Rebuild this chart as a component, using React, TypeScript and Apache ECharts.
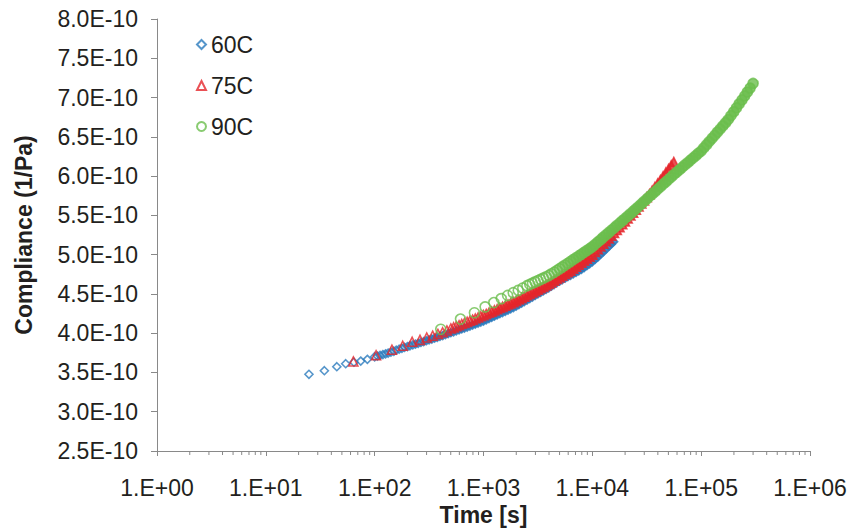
import React, { useEffect, useRef } from "react";
import * as echarts from "echarts";

// Creep compliance (1/Pa) against time (s) at three temperatures.
// Compliance values are listed in units of 1E-10 1/Pa.
const time60C = [
  24.9, 34.5, 44.9, 54.2, 64.5, 74.5, 85.7,
  100, 106, 112, 119, 126, 133, 141, 150, 158, 168, 178, 188, 200, 211, 224, 237, 251, 266, 282, 299,
  316, 335, 355, 376, 398, 422, 447, 473, 501, 531, 562, 596, 631, 668, 708, 750, 794, 841, 891, 944,
  1000, 1059, 1122, 1189, 1259, 1334, 1413, 1496, 1585, 1679, 1778, 1884, 1995, 2113, 2239, 2371,
  2512, 2661, 2818, 2985, 3162, 3350, 3548, 3758, 3981, 4217, 4467, 4732, 5012, 5309, 5623, 5957,
  6310, 6683, 7079, 7499, 7943, 8414, 8913, 9441,
  10000, 10590, 11220, 11890, 12590, 13340, 14130, 14960, 15700,
];
const comp60C = [
  3.477, 3.522, 3.573, 3.611, 3.63, 3.645, 3.667,
  3.7, 3.708, 3.717, 3.727, 3.737, 3.747, 3.758, 3.77, 3.783, 3.796, 3.808, 3.819, 3.83, 3.84, 3.85,
  3.86, 3.871, 3.882, 3.893, 3.904, 3.915, 3.926, 3.937, 3.948, 3.959, 3.97, 3.982, 3.994, 4.006,
  4.018, 4.03, 4.042, 4.054, 4.066, 4.078, 4.09, 4.103, 4.116, 4.129, 4.142,
  4.155, 4.17, 4.186, 4.201, 4.217, 4.232, 4.248, 4.263, 4.279, 4.295, 4.311, 4.327, 4.343, 4.363,
  4.382, 4.402, 4.421, 4.441, 4.46, 4.48, 4.499, 4.519, 4.538, 4.558, 4.577, 4.6, 4.622, 4.645,
  4.662, 4.682, 4.7, 4.719, 4.737, 4.756, 4.774, 4.793, 4.811, 4.835, 4.859, 4.884,
  4.909, 4.939, 4.969, 5.002, 5.035, 5.069, 5.102, 5.136, 5.165,
];

const time75C = [
  63.7, 103, 144, 181, 221, 261, 301, 341, 381, 421, 461,
  501, 531, 562, 596, 631, 668, 708, 750, 794, 841, 891, 944,
  1000, 1059, 1122, 1189, 1259, 1334, 1413, 1496, 1585, 1679, 1778, 1884, 1995, 2113, 2239, 2371,
  2512, 2661, 2818, 2985, 3162, 3350, 3548, 3758, 3981, 4217, 4467, 4732, 5012, 5309, 5623, 5957,
  6310, 6683, 7079, 7499, 7943, 8414, 8913, 9441,
  10000, 10590, 11220, 11890, 12590, 13340, 14130, 14960, 15850, 16790, 17780, 18840, 19950, 21130,
  22390, 23710, 25120, 26610, 28180, 29850, 31620, 33500, 35480, 37580, 39810, 42170, 44670, 47320,
  50120, 53090, 56000,
];
const comp75C = [
  3.64, 3.72, 3.79, 3.84, 3.89, 3.915, 3.945, 3.968, 3.99, 4.012, 4.035,
  4.06, 4.074, 4.088, 4.102, 4.116, 4.13, 4.144, 4.158, 4.172, 4.186, 4.2, 4.215,
  4.23, 4.245, 4.26, 4.275, 4.29, 4.305, 4.32, 4.335, 4.35, 4.365, 4.38, 4.395, 4.41, 4.428, 4.446,
  4.464, 4.482, 4.5, 4.518, 4.536, 4.554, 4.572, 4.59, 4.608, 4.626, 4.647, 4.669, 4.69, 4.711,
  4.733, 4.754, 4.775, 4.796, 4.822, 4.847, 4.873, 4.898, 4.924, 4.949, 4.975,
  5.0, 5.034, 5.069, 5.103, 5.138, 5.172, 5.207, 5.241, 5.276, 5.313, 5.35, 5.387, 5.424, 5.461,
  5.498, 5.535, 5.572, 5.612, 5.652, 5.691, 5.731, 5.771, 5.816, 5.861, 5.906, 5.951, 5.998, 6.044,
  6.091, 6.137, 6.18,
];

const time90C = [
  405, 615, 825, 1035, 1245, 1455, 1665, 1875, 2085, 2295, 2505,
  2661, 2818, 2985, 3162, 3350, 3548, 3758, 3981, 4217, 4467, 4732, 5012, 5309, 5623, 5957, 6310,
  6683, 7079, 7499, 7943, 8414, 8913, 9441,
  10000, 10590, 11220, 11890, 12590, 13340, 14130, 14960, 15850, 16790, 17780, 18840, 19950, 21130,
  22390, 23710, 25120, 26610, 28180, 29850, 31620, 33500, 35480, 37580, 39810, 42170, 44670, 47320,
  50120, 53090, 56230, 59570, 63100, 66830, 70790, 74990, 79430, 84140, 89130, 94410,
  100000, 105900, 112200, 118900, 125900, 133400, 141300, 149600, 158500, 167900, 177800, 188400,
  199500, 211300, 223900, 237100, 251200, 266100, 281800, 300000,
];
const comp90C = [
  4.05, 4.18, 4.26, 4.335, 4.39, 4.44, 4.48, 4.515, 4.545, 4.575, 4.605,
  4.621, 4.637, 4.653, 4.669, 4.685, 4.701, 4.718, 4.735, 4.756, 4.777, 4.799, 4.821, 4.844, 4.867,
  4.89, 4.913, 4.937, 4.96, 4.983, 5.006, 5.03, 5.053, 5.076,
  5.1, 5.13, 5.16, 5.19, 5.22, 5.25, 5.28, 5.31, 5.34, 5.37, 5.4, 5.43, 5.46, 5.49, 5.52, 5.551,
  5.582, 5.614, 5.645, 5.676, 5.707, 5.739, 5.77, 5.801, 5.832, 5.864, 5.895, 5.926, 5.957, 5.989,
  6.02, 6.05, 6.08, 6.11, 6.14, 6.17, 6.2, 6.23, 6.26, 6.29,
  6.32, 6.36, 6.4, 6.44, 6.48, 6.52, 6.56, 6.6, 6.64, 6.68, 6.72, 6.77, 6.82, 6.87, 6.92, 6.97, 7.02,
  7.07, 7.12, 7.18,
];

const seriesNames = ["60C", "75C", "90C"];

// Logging interval of each test (s); the records crowd together at long times
const sampleInterval = [10.5, 40, 210];

// Log-axis minor tick positions (2..9 within each decade)
const minorTickValues = [
  2, 3, 4, 5, 6, 7, 8, 9, 20, 30, 40, 50, 60, 70, 80, 90, 200, 300, 400, 500, 600, 700, 800, 900,
  2000, 3000, 4000, 5000, 6000, 7000, 8000, 9000, 20000, 30000, 40000, 50000, 60000, 70000, 80000,
  90000, 200000, 300000, 400000, 500000, 600000, 700000, 800000, 900000,
];

const UNIT = 1e-10;
const Y_MIN = 2.5e-10;
const Y_MAX = 8.0e-10;
const Y_STEP = 0.5e-10;

const FONT = "'Liberation Sans', Arial, sans-serif";
const AXIS_COLOR = "#898989";
const TEXT_COLOR = "#231f20";

const hexToRgba = (hex: string, a: number) => {
  const n = parseInt(hex.slice(1), 16);
  return `rgba(${(n >> 16) & 255},${(n >> 8) & 255},${n & 255},${a.toFixed(3)})`;
};

// Where the logged records overlap heavily the hollow markers merge into a solid band,
// so the marker fill grows with the record density along the log axis.
const toItems = (t: number[], c: number[], dt: number, color: string) =>
  t.map((x, i) => {
    const spacingDecades = dt / (x * Math.LN10);
    const fill = Math.max(0, Math.min(1, (0.025 - spacingDecades) / 0.015));
    return { value: [x, c[i] * UNIT], itemStyle: { color: hexToRgba(color, fill) } };
  });

export default function App() {
  const ref = useRef<HTMLDivElement>(null);

  useEffect(() => {
    if (!ref.current) return;
    const chart = echarts.init(ref.current, null, { renderer: "svg" });

    const marker = (
      symbol: string,
      color: string,
      size: number,
      idx: number,
      t: number[],
      c: number[]
    ) => ({
      name: seriesNames[idx],
      type: "scatter",
      symbol,
      symbolSize: size,
      data: toItems(t, c, sampleInterval[idx], color),
      itemStyle: { color: "rgba(255,255,255,0)", borderColor: color, borderWidth: 1.6 },
      emphasis: { disabled: true },
    });

    chart.setOption({
      animation: false,
      backgroundColor: "#ffffff",
      textStyle: { fontFamily: FONT },
      grid: { left: 157, right: 37, top: 19, bottom: 77, outerBoundsMode: "none" },
      legend: {
        data: seriesNames,
        orient: "vertical",
        left: 196,
        top: 33,
        padding: 0,
        itemWidth: 9,
        itemHeight: 9,
        itemGap: 18,
        textStyle: { fontSize: 23, color: TEXT_COLOR, fontFamily: FONT },
      },
      xAxis: {
        type: "log",
        logBase: 10,
        min: 1,
        max: 1e6,
        name: "Time [s]",
        nameLocation: "middle",
        nameGap: 49,
        nameTextStyle: { fontSize: 23, fontWeight: "bold", color: TEXT_COLOR, fontFamily: FONT },
        axisLine: { show: true, lineStyle: { color: AXIS_COLOR, width: 1 } },
        axisTick: { show: true, length: 5, lineStyle: { color: AXIS_COLOR } },
        axisLabel: {
          fontSize: 23,
          color: TEXT_COLOR,
          margin: 25,
          formatter: (v: number) => {
            const e = Math.round(Math.log10(v));
            return "1.E" + (e < 0 ? "-" : "+") + String(Math.abs(e)).padStart(2, "0");
          },
        },
        splitLine: { show: false },
      },
      yAxis: {
        type: "value",
        min: Y_MIN,
        max: Y_MAX,
        interval: Y_STEP,
        name: "Compliance (1/Pa)",
        nameLocation: "middle",
        nameGap: 122,
        nameTextStyle: { fontSize: 23, fontWeight: "bold", color: TEXT_COLOR, fontFamily: FONT },
        axisLine: { show: true, lineStyle: { color: AXIS_COLOR, width: 1 } },
        axisTick: { show: true, length: 6, lineStyle: { color: AXIS_COLOR } },
        axisLabel: {
          fontSize: 23,
          color: TEXT_COLOR,
          margin: 19,
          formatter: (v: number) => (v / UNIT).toFixed(1) + "E-10",
        },
        splitLine: { show: false },
      },
      series: [
        marker("diamond", "#2b7bbd", 8, 0, time60C, comp60C),
        marker("triangle", "#e5262b", 9, 1, time75C, comp75C),
        marker("circle", "#6cbe4e", 10, 2, time90C, comp90C),
        {
          type: "custom",
          silent: true,
          clip: false,
          data: minorTickValues.map((v) => [v, Y_MIN]),
          renderItem: (_params: any, api: any) => {
            const p = api.coord([api.value(0), api.value(1)]);
            return {
              type: "line",
              shape: { x1: p[0], y1: p[1], x2: p[0], y2: p[1] + 4 },
              style: { stroke: AXIS_COLOR, lineWidth: 1 },
            };
          },
        },
      ],
    });

    return () => chart.dispose();
  }, []);

  return <div ref={ref} style={{ width: 847, height: 528, position: "absolute", left: 0, top: 0 }} />;
}
